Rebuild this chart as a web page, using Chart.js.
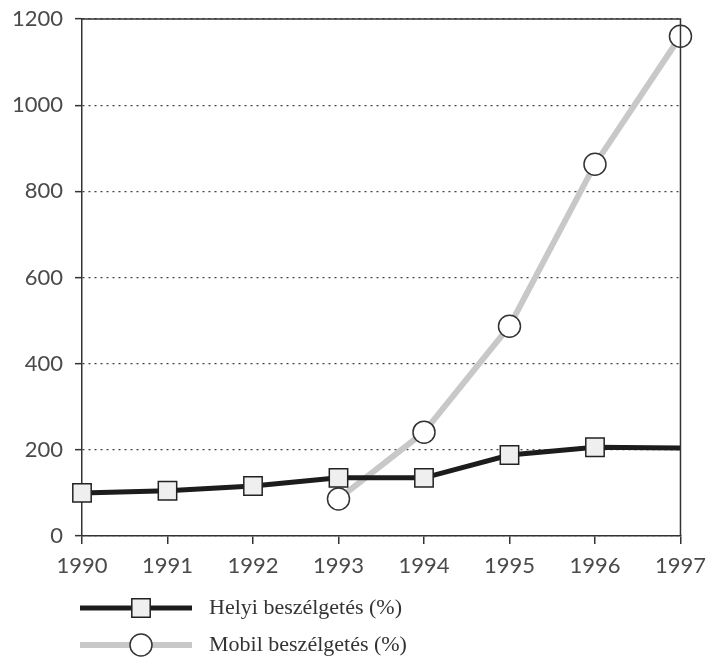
<!DOCTYPE html>
<html>
<head>
<meta charset="utf-8">
<script src="https://cdn.jsdelivr.net/npm/chart.js@4/dist/chart.umd.min.js"></script>
<style>
  html, body { margin: 0; padding: 0; background: #fff; }
  #wrap { width: 715px; height: 669px; }
</style>
</head>
<body>
<div id="wrap"><canvas id="chart" width="715" height="669"></canvas></div>
<script>
  const gYears = ['1990', '1991', '1992', '1993', '1994', '1995', '1996', '1997'];
  const gHelyi = [100, 105, 116, 135, 135, 188, 206, 204];
  const gMobil = [null, null, null, 86, 241, 487, 863, 1160];
  const gHelyiLabel = 'Helyi beszélgetés (%)';
  const gMobilLabel = 'Mobil beszélgetés (%)';
  const gTickFont = { family: 'Lato', size: 22, weight: 'normal' };

  // box border + legend under the plot
  const frameAndLegend = {
    id: 'frameAndLegend',
    afterDatasetsDraw(chart) {
      const ctx = chart.ctx;
      const a = chart.chartArea;
      ctx.save();
      ctx.strokeStyle = '#333';
      ctx.lineWidth = 1.5;
      ctx.beginPath();
      ctx.moveTo(a.left, a.top);
      ctx.lineTo(a.right, a.top);
      ctx.lineTo(a.right, a.bottom);
      ctx.stroke();

      [0, 1].forEach(function (i) {
        const ds = chart.data.datasets[i];
        const y = a.bottom + 72 + i * 37;
        const x0 = a.left - 2;
        const x1 = a.left + 110;
        ctx.strokeStyle = ds.borderColor;
        ctx.lineWidth = ds.borderWidth;
        ctx.beginPath();
        ctx.moveTo(x0, y);
        ctx.lineTo(x1, y);
        ctx.stroke();
        ctx.fillStyle = ds.pointBackgroundColor;
        ctx.strokeStyle = ds.pointBorderColor;
        ctx.lineWidth = ds.pointBorderWidth;
        Chart.helpers.drawPoint(ctx, {
          pointStyle: ds.pointStyle,
          radius: ds.pointStyle === 'rect' ? 13 : 11,
          borderWidth: ds.pointBorderWidth,
        }, (x0 + x1) / 2 + 5, y);
        ctx.fillStyle = '#333';
        ctx.font = '22px "Liberation Serif"';
        ctx.textBaseline = 'middle';
        ctx.fillText(ds.label, x1 + 17, y);
      });
      ctx.restore();
    },
  };

  new Chart(document.getElementById('chart'), {
    type: 'line',
    data: {
      labels: gYears,
      datasets: [
        {
          label: gHelyiLabel,
          data: gHelyi,
          borderColor: '#1c1c1c',
          borderWidth: 5,
          pointStyle: 'rect',
          pointRadius: [13, 13, 13, 13, 13, 13, 13, 0],
          pointBackgroundColor: '#efefef',
          pointBorderColor: '#222',
          pointBorderWidth: 1.5,
          tension: 0,
        },
        {
          label: gMobilLabel,
          data: gMobil,
          borderColor: '#c8c8c8',
          borderWidth: 6,
          pointStyle: 'circle',
          pointRadius: 11,
          pointBackgroundColor: '#fff',
          pointBorderColor: '#333',
          pointBorderWidth: 1.5,
          tension: 0,
        },
      ],
    },
    options: {
      responsive: false,
      animation: false,
      layout: { padding: { top: 19, right: 34, bottom: 93, left: 0 } },
      plugins: {
        legend: { display: false },
        tooltip: { enabled: false },
      },
      scales: {
        x: {
          grid: {
            drawOnChartArea: false,
            drawTicks: true,
            tickLength: 8,
            color: '#333',
            lineWidth: 1.5,
          },
          border: { color: '#333', width: 1.5 },
          ticks: { color: '#4a4a4a', font: gTickFont, padding: 9, maxRotation: 0 },
          afterFit: function (scale) { scale.height = 40; },
        },
        y: {
          min: 0,
          max: 1200,
          grid: {
            color: '#444',
            lineWidth: 1.3,
            drawTicks: true,
            tickLength: 7,
            tickColor: '#333',
            tickWidth: 1.5,
            tickBorderDash: [],
          },
          border: { color: '#333', width: 1.5, dash: [2, 4] },
          ticks: {
            stepSize: 200,
            color: '#4a4a4a',
            font: gTickFont,
            padding: 12,
            callback: function (v) { return String(v); },
          },
          afterFit: function (scale) {
            scale.width = 82;
            scale.paddingTop = 0;
            scale.paddingBottom = 0;
          },
        },
      },
    },
    plugins: [frameAndLegend],
  });
</script>
</body>
</html>
